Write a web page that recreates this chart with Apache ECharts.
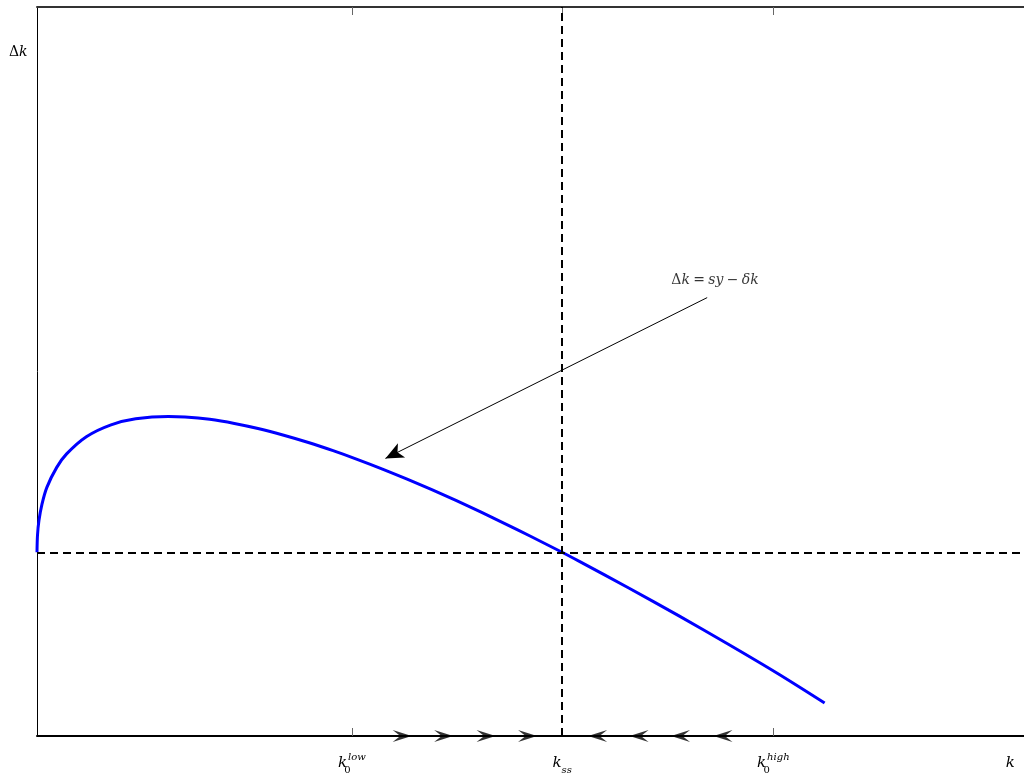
<!DOCTYPE html>
<html><head><meta charset="utf-8">
<script src="https://cdn.jsdelivr.net/npm/echarts@6/dist/echarts.min.js"></script>
<style>html,body{margin:0;padding:0;background:#fff}#c{width:1024px;height:775px}</style>
</head><body><div id="c"></div>
<script>
// capital stock k and change in capital Δk
const kValues  = [0, 0.005, 0.02, 0.05, 0.1, 0.2, 0.3, 0.5, 0.75, 1.0, 1.33, 1.5, 1.75, 2.0, 2.25, 2.5, 2.75, 3.0, 3.25, 3.5, 3.75, 4.0, 4.25, 4.5, 4.75, 5.0, 5.32, 5.5, 6.0, 6.5, 7.0, 7.5, 7.98];
const dkValues = [0, 0.17, 0.32, 0.48, 0.65, 0.85, 0.985, 1.157, 1.276, 1.336, 1.36, 1.355, 1.331, 1.29, 1.237, 1.172, 1.099, 1.017, 0.928, 0.833, 0.732, 0.626, 0.516, 0.401, 0.282, 0.16, 0, -0.094, -0.36, -0.635, -0.919, -1.212, -1.51];
const kSS = 5.32;
const tickValues = [3.19, 5.32, 7.46];
const labelValues = [3.19, 5.32, 7.46, 9.86];
const labelTexts = ['{k|k}{s0|0}{sup|low}', '{k|k}{sub|ss}', '{k|k}{s0|0}{sup|high}', '{k|k}'];
const rightArrowK = [3.70, 4.12, 4.55, 4.97];
const leftArrowK  = [5.68, 6.10, 6.52, 6.95];
const annotFrom = [6.79, 2.55];
const annotTo   = [3.53, 0.94];
const annotTextPos = [6.87, 2.72];
const xMin = 0, xMax = 10, yMin = -1.84, yMax = 5.46;

const serif = 'DejaVu Serif';
const chart = echarts.init(document.getElementById('c'));
const richX = {
  k:   {fontFamily: serif, fontStyle: 'italic', fontSize: 15, color: '#000', lineHeight: 23, verticalAlign: 'middle'},
  s0:  {fontFamily: serif, fontSize: 10, color: '#000', lineHeight: 10, verticalAlign: 'bottom', width: 1},
  sub: {fontFamily: serif, fontStyle: 'italic', fontSize: 10, color: '#000', lineHeight: 10, verticalAlign: 'bottom'},
  sup: {fontFamily: serif, fontStyle: 'italic', fontSize: 10, color: '#000', lineHeight: 10, verticalAlign: 'top'}
};
const chevronR = 'path://M0,0 L20,6 L0,12 L8,6 Z';
const chevronL = 'path://M20,0 L0,6 L20,12 L12,6 Z';

chart.setOption({
  animation: false,
  backgroundColor: '#fff',
  grid: {left: 37, top: 7, right: 0, bottom: 37, containLabel: false},
  graphic: [{
    type: 'text', left: 9, top: 45,
    style: {rich: {n: {fontFamily: serif, fontSize: 14, fill: '#000'}, i: {fontFamily: serif, fontStyle: 'italic', fontSize: 14, fill: '#000'}},
            text: '{n|Δ}{i|k}'}
  }],
  xAxis: [{
    type: 'value', min: xMin, max: xMax, position: 'bottom',
    axisLine: {show: true, onZero: false, lineStyle: {color: '#000', width: 2}},
    axisTick: {show: true, inside: true, length: 8, customValues: tickValues, lineStyle: {color: '#666', width: 1}},
    axisLabel: {show: true, customValues: labelValues, margin: 16,
      formatter: v => { const i = labelValues.findIndex(x => Math.abs(x - v) < 1e-6); return i >= 0 ? labelTexts[i] : ''; },
      rich: richX},
    splitLine: {show: false}
  }, {
    type: 'value', min: xMin, max: xMax, position: 'top',
    axisLine: {show: true, onZero: false, lineStyle: {color: '#333', width: 2}},
    axisTick: {show: true, inside: true, length: 8, customValues: tickValues, lineStyle: {color: '#666', width: 1}},
    axisLabel: {show: false},
    splitLine: {show: false}
  }],
  yAxis: {
    type: 'value', min: yMin, max: yMax,
    axisLine: {show: true, onZero: false, lineStyle: {color: '#000', width: 1}},
    axisTick: {show: false}, axisLabel: {show: false}, splitLine: {show: false}
  },
  series: [{
    type: 'line', name: 'dk',
    data: kValues.map((k, i) => [k, dkValues[i]]),
    smooth: 0.3, showSymbol: false, clip: false,
    lineStyle: {color: '#0000ff', width: 3},
    markLine: {
      silent: true, symbol: ['none', 'none'], label: {show: false},
      lineStyle: {color: '#000', width: 2, type: [8, 5]},
      data: [{xAxis: kSS}, {yAxis: 0}]
    }
  }, {
    type: 'line', name: 'annot', data: [],
    markLine: {
      silent: true, symbol: ['none', 'arrow'], symbolSize: [12, 18], label: {show: false},
      lineStyle: {color: '#000', width: 1, type: 'solid'},
      itemStyle: {color: '#000'},
      data: [[{coord: annotFrom}, {coord: annotTo}]]
    }
  }, {
    type: 'scatter', name: 'right', clip: false, silent: true,
    data: rightArrowK.map(k => [k, yMin]),
    symbol: chevronR, symbolSize: [19, 12], itemStyle: {color: '#000'}
  }, {
    type: 'scatter', name: 'left', clip: false, silent: true,
    data: leftArrowK.map(k => [k, yMin]),
    symbol: chevronL, symbolSize: [19, 12], itemStyle: {color: '#000'}
  }, {
    type: 'scatter', name: 'text', silent: true, symbolSize: 0,
    data: [annotTextPos],
    label: {show: true, position: 'inside', color: '#000',
      formatter: '{n|Δ}{i|k} {n|=} {i|sy} {n|−} {i|δk}',
      rich: {n: {fontFamily: serif, fontSize: 14, color: '#000'}, i: {fontFamily: serif, fontStyle: 'italic', fontSize: 14, color: '#000'}}}
  }]
});
</script></body></html>
